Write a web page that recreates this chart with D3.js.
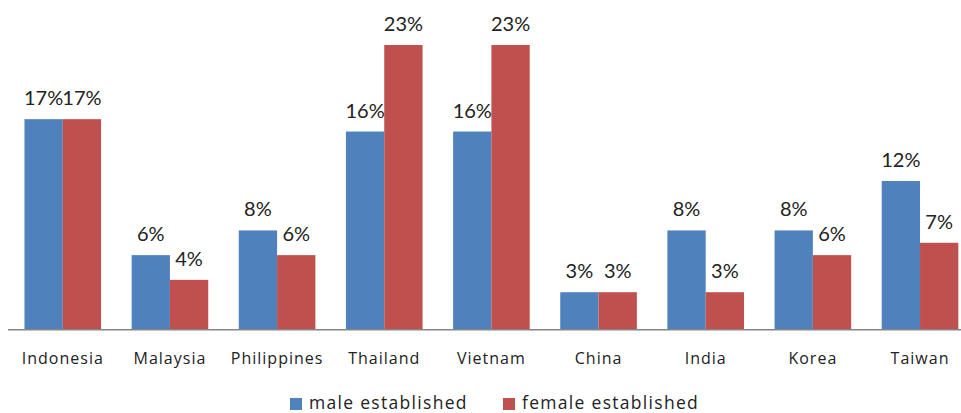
<!DOCTYPE html>
<html>
<head>
<meta charset="utf-8">
<script src="https://cdn.jsdelivr.net/npm/d3@7"></script>
<style>
html,body{margin:0;padding:0;background:#fff;}
svg{display:block;}
text{font-family:Lato,"Open Sans",sans-serif;fill:#222;}
</style>
</head>
<body>
<svg id="chart" width="961" height="413"></svg>
<script>
const categories = ["Indonesia","Malaysia","Philippines","Thailand","Vietnam","China","India","Korea","Taiwan"];
const seriesNames = ["male established","female established"];
const maleValues = [0.17,0.06,0.08,0.16,0.16,0.03,0.08,0.08,0.12];
const femaleValues = [0.17,0.04,0.06,0.23,0.23,0.03,0.03,0.06,0.07];
const colors = ["#4F81BD","#C0504D"];

const svg = d3.select("#chart");
const baseY = 329.3;

const x0 = d3.scaleBand().domain(categories).range([9.2, 973.6]).paddingInner(0.285).paddingOuter(0.1425);
const x1 = d3.scaleBand().domain(seriesNames).range([0, x0.bandwidth()]).padding(0);
const y = d3.scaleLinear().domain([0, 0.25]).range([baseY, 20.3]);
const color = d3.scaleOrdinal().domain(seriesNames).range(colors);
const fmt = d3.format(".0%");

const rows = categories.map((c,i)=>({cat:c, vals:[{s:seriesNames[0], v:maleValues[i]},{s:seriesNames[1], v:femaleValues[i]}]}));

const g = svg.selectAll("g.cat").data(rows).join("g").attr("class","cat")
  .attr("transform", d=>`translate(${x0(d.cat)},0)`);

g.selectAll("rect").data(d=>d.vals).join("rect")
  .attr("x", d=>x1(d.s)).attr("width", x1.bandwidth())
  .attr("y", d=>y(d.v)).attr("height", d=>baseY - y(d.v))
  .attr("fill", d=>color(d.s));

g.selectAll("text.lbl").data(d=>d.vals).join("text").attr("class","lbl")
  .attr("x", d=>x1(d.s)+x1.bandwidth()/2)
  .attr("y", d=>y(d.v)-14)
  .attr("text-anchor","middle")
  .style("font-size","20px")
  .text(d=>fmt(d.v));

// x axis
const xAxis = d3.axisBottom(x0).tickSize(0).tickPadding(0);
const ax = svg.append("g").attr("transform",`translate(0,${baseY})`).call(xAxis);
ax.select(".domain").attr("d", `M8,0.5H961`).attr("stroke","#868686").attr("stroke-width",1.5);
ax.selectAll(".tick text").attr("y", 35).attr("dy", null)
  .style("font-size","16px").style("font-family","'Open Sans',Lato,sans-serif")
  .style("letter-spacing","1px").attr("fill","#222");

// legend
const legendItems = [{s:seriesNames[0], x:290},{s:seriesNames[1], x:503}];
const lg = svg.append("g").selectAll("g").data(legendItems).join("g")
  .attr("transform", d=>`translate(${d.x},398)`);
lg.append("rect").attr("width",12).attr("height",12).attr("fill", d=>color(d.s));
lg.append("text").attr("x",19).attr("y",11).style("font-size","17.5px")
  .style("letter-spacing","1.3px")
  .style("font-family","'Open Sans',Lato,sans-serif").text(d=>d.s);
</script>
</body>
</html>
